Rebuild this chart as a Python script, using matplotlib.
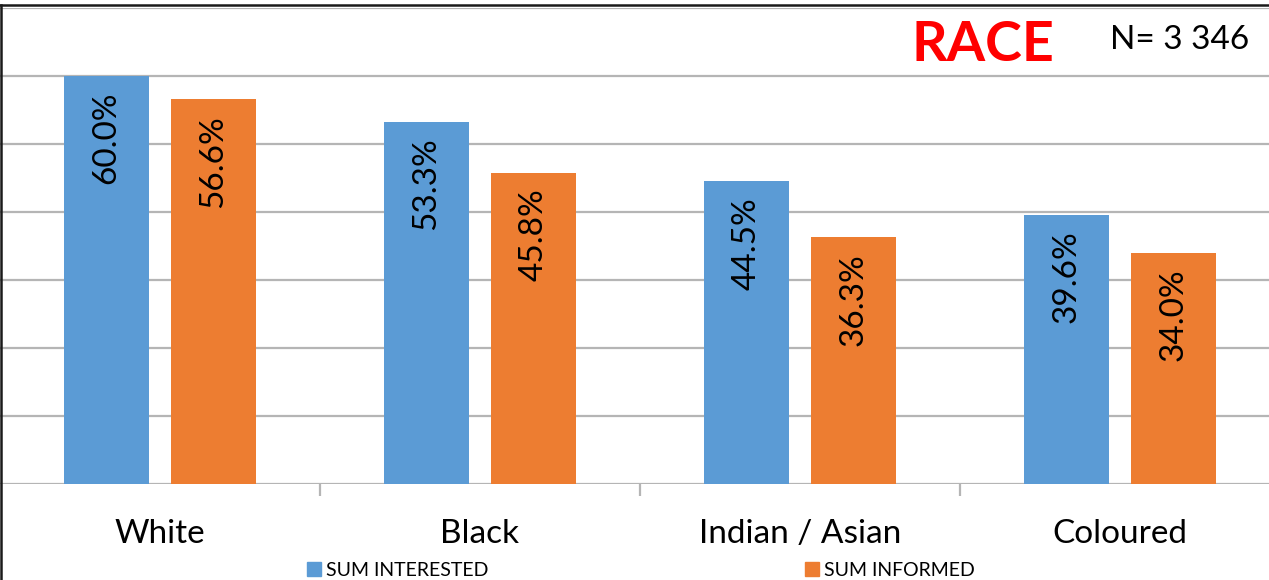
import numpy as np
import matplotlib
matplotlib.use("Agg")
import matplotlib.pyplot as plt
from matplotlib.patches import Patch
from matplotlib.lines import Line2D

plt.rcParams['font.family'] = ['Lato', 'DejaVu Sans']

categories = ["White", "Black", "Indian / Asian", "Coloured"]
interested = [60.0, 53.3, 44.5, 39.6]
informed = [56.6, 45.8, 36.3, 34.0]
series_names = ["SUM INTERESTED", "SUM INFORMED"]
colors = ["#5B9BD5", "#ED7D31"]

W, H = 1269, 580
fig = plt.figure(figsize=(W / 100, H / 100), dpi=100)
# plot area: baseline at y=484 px, 70% line at y=8 px
ax = fig.add_axes([0, (H - 484) / H, 1.0, 476 / H])

x = np.arange(len(categories))
bw = 0.266
off = 0.167
b1 = ax.bar(x - off, interested, bw, color=colors[0], zorder=3)
b2 = ax.bar(x + off, informed, bw, color=colors[1], zorder=3)

for bars, vals in ((b1, interested), (b2, informed)):
    for rect, v in zip(bars, vals):
        ax.annotate(f"{v:.1f}%", (rect.get_x() + rect.get_width() / 2, v),
                    xytext=(0, -16), textcoords="offset pixels",
                    rotation=90, ha="center", va="top", fontsize=24,
                    color="black", zorder=4)

ax.set_xlim(-0.5, -0.5 + W / 320)
ax.set_ylim(0, 70)
ax.set_yticks(np.arange(0, 71, 10))
ax.yaxis.grid(True, color="#b5b5b5", linewidth=1.6, zorder=0)
ax.set_yticklabels([])
ax.tick_params(axis="y", length=0)
for s in ax.spines.values():
    s.set_visible(False)

ax.set_xticks(x)
ax.set_xticklabels(categories, fontsize=24)
ax.tick_params(axis="x", which="major", length=0, pad=25)
ax.set_xticks(x[:-1] + 0.5, minor=True)
ax.tick_params(axis="x", which="minor", length=8.5, width=1.6, color="#b5b5b5")

# title and sample size, placed in figure pixel coords (from top)
fig.text(983 / W, 1 - 45 / H, "RACE", fontsize=40, fontweight="bold",
         color="#FF0000", ha="center", va="center")
fig.text(1180 / W, 1 - 40 / H, "N= 3 346", fontsize=24,
         ha="center", va="center")

# screenshot border lines
fig.add_artist(Line2D([0, 1], [1 - 5 / H, 1 - 5 / H], transform=fig.transFigure,
                      color="#1a1a1a", linewidth=1.8))
fig.add_artist(Line2D([0.5 / W, 0.5 / W], [0, 1 - 5 / H], transform=fig.transFigure,
                      color="#1a1a1a", linewidth=1.8))

for name, c, xpx in zip(series_names, colors, [307, 805]):
    fig.legend(handles=[Patch(color=c, label=name)], loc="center left",
               bbox_to_anchor=(xpx / W, 1 - 570 / H), frameon=False,
               fontsize=14, handlelength=0.7, handleheight=0.7,
               handletextpad=0.3, borderpad=0, borderaxespad=0)

fig.savefig("out.png", dpi=100)
